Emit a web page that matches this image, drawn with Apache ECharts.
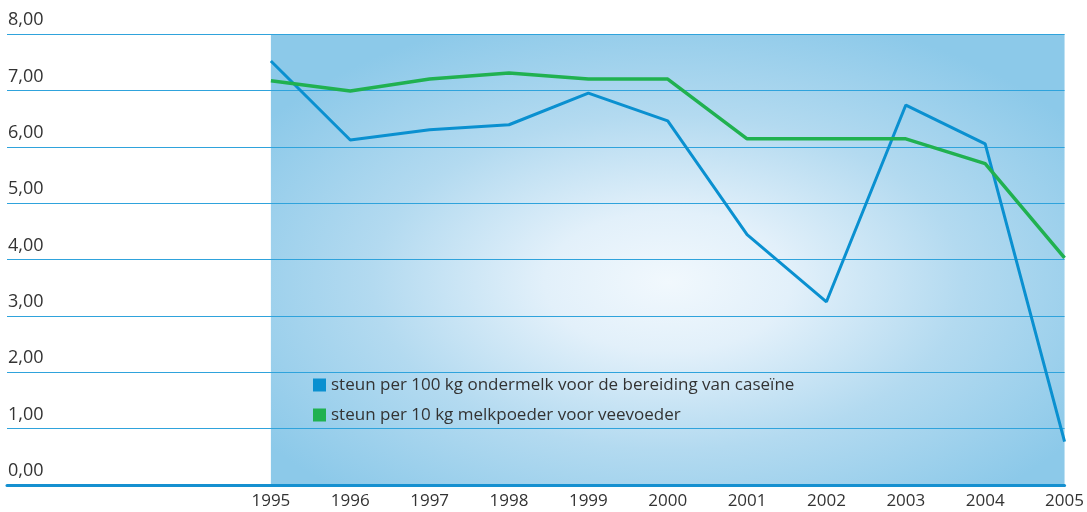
<!DOCTYPE html>
<html>
<head>
<meta charset="utf-8">
<script src="https://cdn.jsdelivr.net/npm/echarts@6/dist/echarts.min.js"></script>
<style>
html,body{margin:0;padding:0;background:#fff;}
#chart{width:1087px;height:512px;}
</style>
</head>
<body>
<div id="chart"></div>
<script>
var years = [1995, 1996, 1997, 1998, 1999, 2000, 2001, 2002, 2003, 2004, 2005];
var caseine = [7.52, 6.12, 6.30, 6.39, 6.95, 6.46, 4.44, 3.25, 6.74, 6.05, 0.77];
var melkpoeder = [7.17, 6.99, 7.20, 7.31, 7.20, 7.20, 6.14, 6.14, 6.14, 5.70, 4.03];
var seriesNames = ['steun per 100 kg ondermelk voor de bereiding van caseïne', 'steun per 10 kg melkpoeder voor veevoeder'];
var yTicks = [0, 1, 2, 3, 4, 5, 6, 7, 8];

function pairs(vals) { return years.map(function (y, i) { return [y, vals[i]]; }); }

var chart = echarts.init(document.getElementById('chart'));
var font = '"Open Sans", "Noto Sans", sans-serif';
chart.setOption({
  animation: false,
  grid: { left: 7, right: 22, top: 34, bottom: 27, containLabel: false },
  legend: {
    orient: 'vertical', left: 313, top: 375, padding: 0,
    icon: 'rect', itemWidth: 13, itemHeight: 13, itemGap: 10,
    textStyle: { color: '#333', fontSize: 17, lineHeight: 20, fontFamily: font },
    data: seriesNames
  },
  xAxis: {
    type: 'value', min: 1991.675, max: 2005,
    axisLine: { show: true, lineStyle: { color: '#1590d0', width: 3 } },
    axisTick: { show: false },
    splitLine: { show: false },
    axisLabel: {
      customValues: years, formatter: function (v) { return String(v); },
      color: '#333', fontSize: 17, fontFamily: font, margin: 8
    }
  },
  yAxis: {
    type: 'value', min: yTicks[0], max: yTicks[yTicks.length - 1], interval: 1,
    axisLine: { show: false }, axisTick: { show: false },
    splitLine: { lineStyle: { color: '#2fa3dc', width: 1.2 } },
    axisLabel: {
      inside: true, margin: 1, verticalAlign: 'bottom', padding: [0, 0, 5, 0],
      color: '#333', fontSize: 18, fontFamily: font,
      formatter: function (v) { return v.toFixed(2).replace('.', ','); }
    }
  },
  series: [
    { name: seriesNames[0], type: 'line', data: pairs(caseine), symbol: 'none', z: 3,
      itemStyle: { color: '#0a90d0' }, lineStyle: { color: '#0a90d0', width: 3 } },
    { name: seriesNames[1], type: 'line', data: pairs(melkpoeder), symbol: 'none', z: 4,
      itemStyle: { color: '#20b150' }, lineStyle: { color: '#20b150', width: 3.5 } }
  ]
});

var p0 = chart.convertToPixel({ gridIndex: 0 }, [years[0], yTicks[yTicks.length - 1]]);
var p1 = chart.convertToPixel({ gridIndex: 0 }, [years[years.length - 1], yTicks[0]]);
var w = p1[0] - p0[0], h = p1[1] - p0[1];
chart.setOption({
  graphic: [{
    type: 'rect', z: -10, x: p0[0], y: p0[1], scaleX: w / h, originX: 0, originY: 0,
    shape: { x: 0, y: 0, width: h, height: h },
    style: {
      fill: {
        type: 'radial', x: 0.5, y: 0.55, r: 0.62,
        colorStops: [
          { offset: 0, color: '#f1f8fd' },
          { offset: 0.25, color: '#e2f0fa' },
          { offset: 0.6, color: '#b3daf0' },
          { offset: 1, color: '#8cc9e9' }
        ]
      }
    },
    silent: true
  }]
});
</script>
</body>
</html>
